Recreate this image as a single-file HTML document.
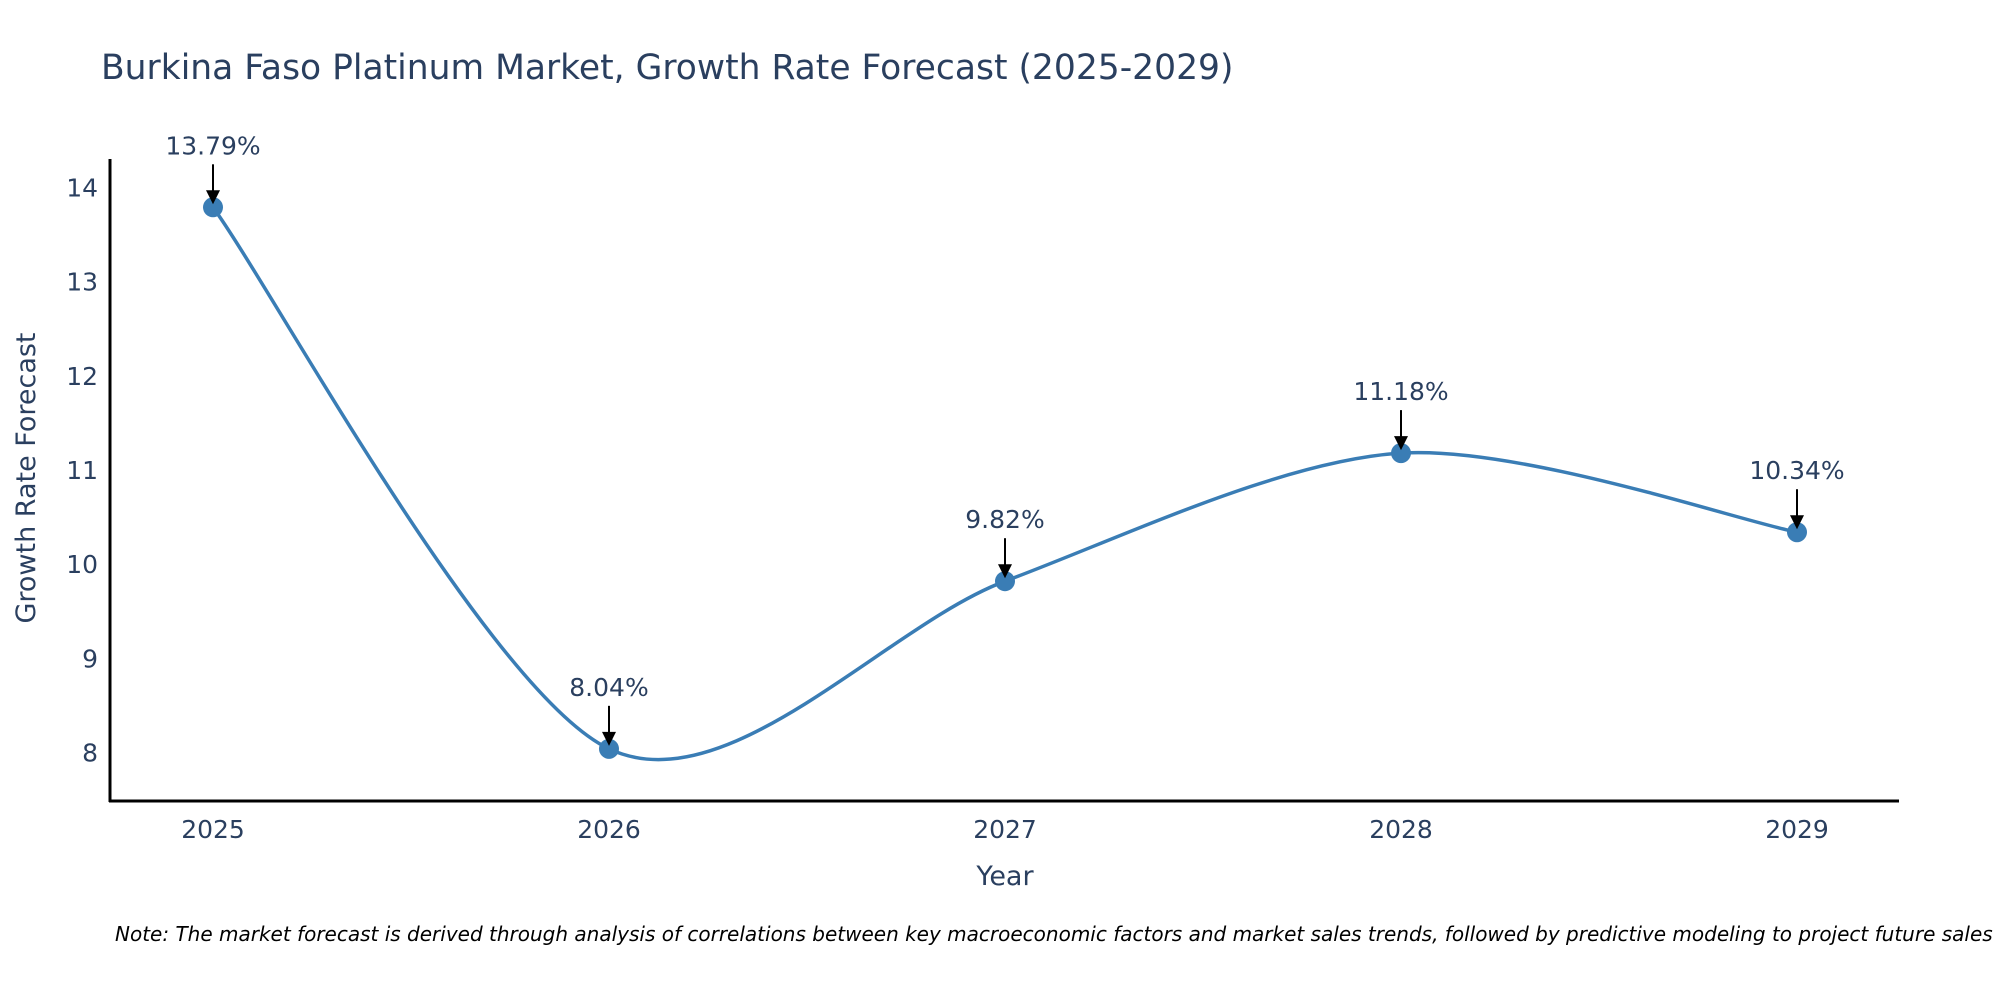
<!DOCTYPE html>
<html><head><meta charset="utf-8"><style>
body{margin:0;background:#fff;}
svg{display:block;font-family:"DejaVu Sans","Liberation Sans",sans-serif;}
</style></head><body>
<svg id="chart" width="2000" height="1000">
<text x="101" y="79" font-size="34.5" fill="#2a3f5f">Burkina Faso Platinum Market, Growth Rate Forecast (2025-2029)</text>
<g id="ticks"></g>
<path id="line" fill="none" stroke="#3a7db5" stroke-width="3.5"></path>
<g id="marks"></g>
<line x1="110" y1="159" x2="110" y2="802" stroke="#000" stroke-width="3"/>
<line x1="109" y1="801" x2="1899" y2="801" stroke="#000" stroke-width="3"/>
<text x="1005" y="885" font-size="27" fill="#2a3f5f" text-anchor="middle">Year</text>
<text transform="translate(35,478) rotate(-90)" font-size="27" fill="#2a3f5f" text-anchor="middle">Growth Rate Forecast</text>
<text x="115" y="941" font-size="20" font-style="italic" fill="#000">Note: The market forecast is derived through analysis of correlations between key macroeconomic factors and market sales trends, followed by predictive modeling to project future sales</text>
</svg>
<script>
const years=[2025,2026,2027,2028,2029];
const values=[13.79,8.04,9.82,11.18,10.34];
const labels=["13.79%","8.04%","9.82%","11.18%","10.34%"];
const yTicks=[8,9,10,11,12,13,14];
const NS="http://www.w3.org/2000/svg";
const xs=i=>213+(1797-213)*(years[i]-years[0])/(years[years.length-1]-years[0]);
const ys=v=>752.6-(v-8)*94.18;
const tg=document.getElementById('ticks');
yTicks.forEach(t=>{const e=document.createElementNS(NS,'text');


e.setAttribute('x',98);e.setAttribute('y',ys(t)+9);e.setAttribute('text-anchor','end');e.setAttribute('font-size','25');e.setAttribute('fill','#2a3f5f');e.textContent=t;tg.appendChild(e);});
years.forEach((y,i)=>{const e=document.createElementNS(NS,'text');


e.setAttribute('x',xs(i));e.setAttribute('y',838);e.setAttribute('text-anchor','middle');e.setAttribute('font-size','25');e.setAttribute('fill','#2a3f5f');e.textContent=y;tg.appendChild(e);});
const P=values.map((v,i)=>[xs(i),ys(v)]);
let d='M'+P[0][0]+','+P[0][1];
const s=0.15;
for(let i=0;i<P.length-1;i++){const p0=P[Math.max(i-1,0)],p1=P[i],p2=P[i+1],p3=P[Math.min(i+2,P.length-1)];
d+=' C'+(p1[0]+(p2[0]-p0[0])*s)+','+(p1[1]+(p2[1]-p0[1])*s)+' '+(p2[0]-(p3[0]-p1[0])*s)+','+(p2[1]-(p3[1]-p1[1])*s)+' '+p2[0]+','+p2[1];}
document.getElementById('line').setAttribute('d',d);
const mg=document.getElementById('marks');
P.forEach((p,i)=>{
const c=document.createElementNS(NS,'circle');


c.setAttribute('cx',p[0]);c.setAttribute('cy',p[1]);c.setAttribute('r',10);c.setAttribute('fill','#3a7db5');mg.appendChild(c);
const l=document.createElementNS(NS,'line');


l.setAttribute('x1',p[0]);l.setAttribute('y1',p[1]-43);l.setAttribute('x2',p[0]);l.setAttribute('y2',p[1]-14);l.setAttribute('stroke','#000');l.setAttribute('stroke-width','2');mg.appendChild(l);
const h=document.createElementNS(NS,'polygon');


h.setAttribute('points',(p[0]-7)+','+(p[1]-17)+' '+(p[0]+7)+','+(p[1]-17)+' '+p[0]+','+(p[1]-3));h.setAttribute('fill','#000');mg.appendChild(h);
const t=document.createElementNS(NS,'text');


t.setAttribute('x',p[0]);t.setAttribute('y',p[1]-53);t.setAttribute('text-anchor','middle');t.setAttribute('font-size','25');t.setAttribute('fill','#2a3f5f');t.textContent=labels[i];mg.appendChild(t);
});
</script>
</body></html>
